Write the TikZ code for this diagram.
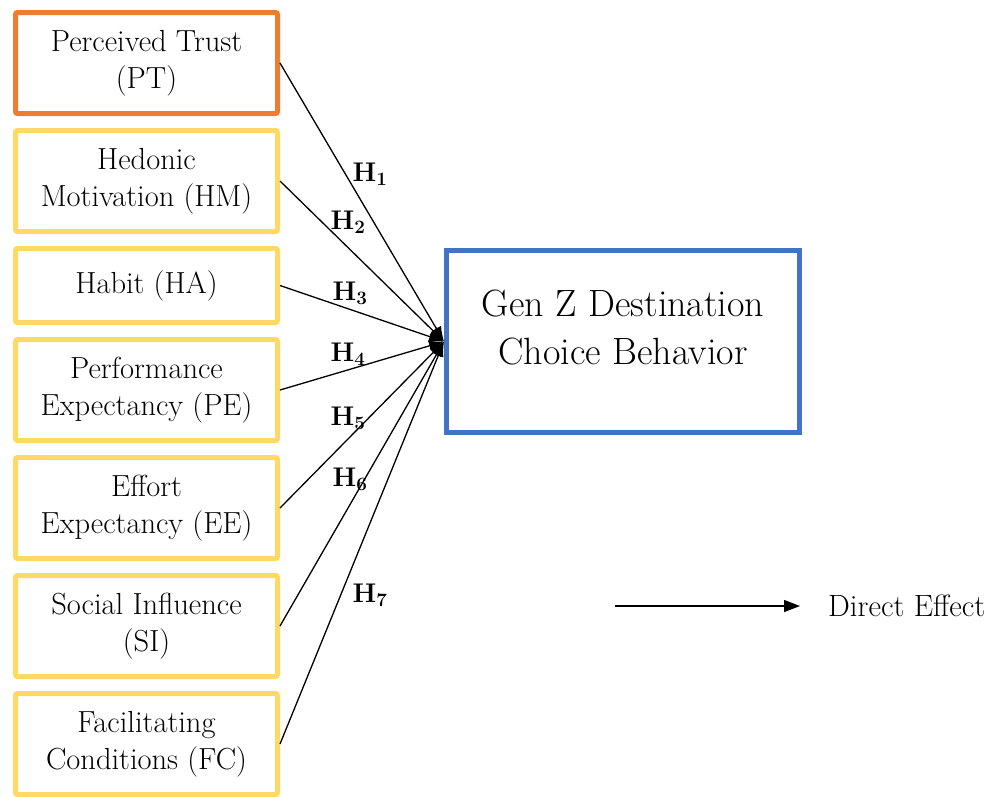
\documentclass[tikz,border=0pt]{standalone}
\usepackage{xcolor}
\usepackage{tikz}
\usetikzlibrary{positioning, arrows.meta}

\definecolor{trustorange}{HTML}{ED7D31}
\definecolor{factorgold}{HTML}{FFD966}
\definecolor{outcomeblue}{HTML}{4472C4}

\begin{document}
\begin{tikzpicture}[x=1pt,y=1pt,->,>={Latex[length=15pt,width=11pt]},node distance=12pt,
    factor/.style={draw=factorgold,line width=5pt,rounded corners=2pt,minimum width=262pt,minimum height=101pt,inner sep=0pt,align=center,font=\fontsize{30.5}{36.5}\selectfont},
    trust/.style={factor,draw=trustorange},
    outcome/.style={draw=outcomeblue,line width=5pt,minimum width=353pt,minimum height=182pt,inner sep=0pt,align=center,text depth=28pt,font=\fontsize{38}{48}\selectfont},
    hyp/.style={inner sep=0pt,font=\fontsize{27}{30}\selectfont\bfseries},
    link/.style={line width=1.3pt}]
    \useasboundingbox (0,0) rectangle (991,-796);

    % left column of constructs
    \node[trust] (pt) at (146.5,-63) {Perceived Trust\\(PT)};
    \node[factor] (hm) [below=of pt] {Hedonic\\Motivation (HM)};
    \node[factor,minimum height=74pt] (ha) [below=of hm] {Habit (HA)};
    \node[factor] (pe) [below=of ha] {Performance\\Expectancy (PE)};
    \node[factor] (ee) [below=of pe] {Effort\\Expectancy (EE)};
    \node[factor] (si) [below=of ee] {Social Influence\\(SI)};
    \node[factor] (fc) [below=of si] {Facilitating\\Conditions (FC)};

    \node[outcome] (gz) at (623,-341.5) {Gen Z Destination\\Choice Behavior};

    % hypothesis labels
    \node[hyp] (h1) at (370,-174) {H\textsubscript{1}};
    \node[hyp] (h2) at (348,-222) {H\textsubscript{2}};
    \node[hyp] (h3) at (350,-293) {H\textsubscript{3}};
    \node[hyp] (h4) at (348,-354) {H\textsubscript{4}};
    \node[hyp] (h5) at (348,-418) {H\textsubscript{5}};
    \node[hyp] (h6) at (350,-479) {H\textsubscript{6}};
    \node[hyp] (h7) at (370,-595) {H\textsubscript{7}};

    \path (pt.east) edge[link] (gz.west)
          (hm.east) edge[link] (gz.west)
          (ha.east) edge[link] (gz.west)
          (pe.east) edge[link] (gz.west)
          (ee.east) edge[link] (gz.west)
          (si.east) edge[link] (gz.west)
          (fc.east) edge[link] (gz.west);

    % legend
    \coordinate (legend) at (615,-606);
    \node[anchor=west,inner sep=0pt,font=\fontsize{30.8}{36.5}\selectfont] (direct) at (828,-606) {Direct Effect};
    \draw[link,>={Triangle[length=16pt,width=12pt]}] (legend) -- ([xshift=-28pt]direct.west);
\end{tikzpicture}
\end{document}
